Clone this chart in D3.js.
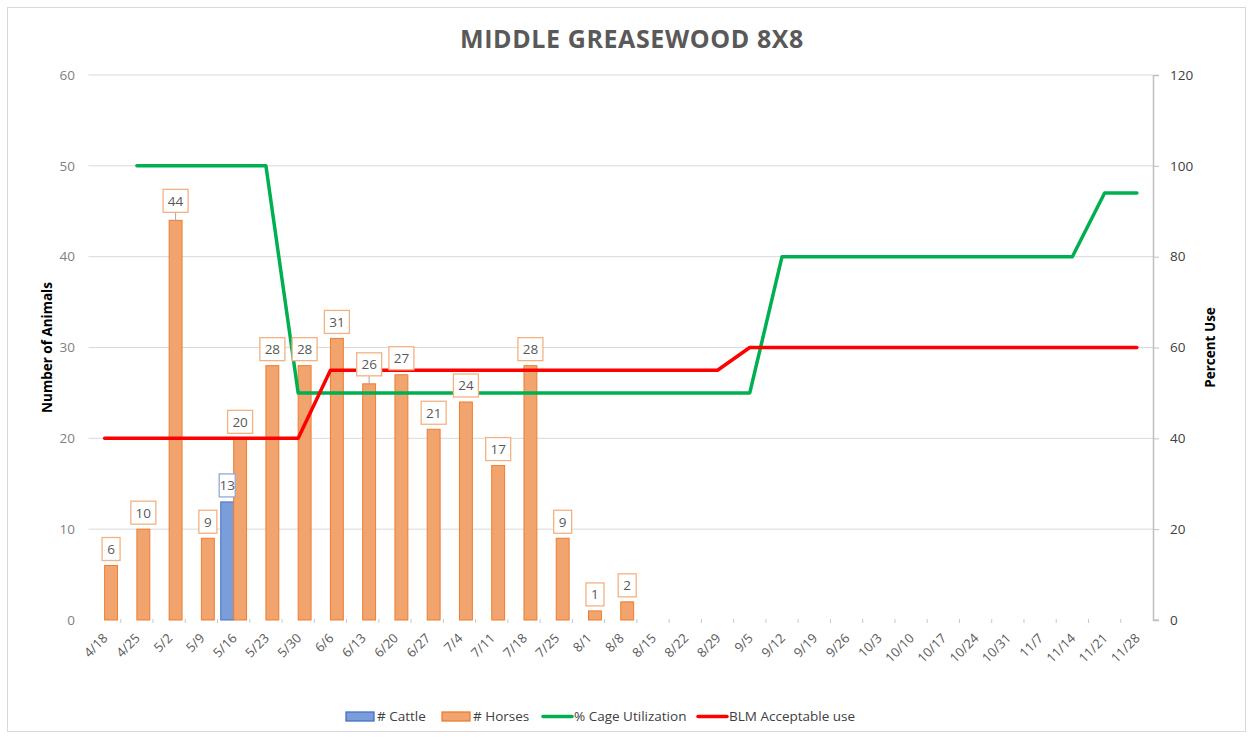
<!DOCTYPE html>
<html>
<head>
<meta charset="utf-8">
<script src="https://cdn.jsdelivr.net/npm/d3@7"></script>
<style>
  body { margin: 0; background: #fff; }
  svg text { font-family: "Open Sans", "Noto Sans", sans-serif; }
</style>
</head>
<body>
<div id="chart"></div>
<script>
const weeks = ["4/18","4/25","5/2","5/9","5/16","5/23","5/30","6/6","6/13","6/20","6/27","7/4","7/11","7/18","7/25",
  "8/1","8/8","8/15","8/22","8/29","9/5","9/12","9/19","9/26","10/3","10/10","10/17","10/24","10/31","11/7","11/14","11/21","11/28"];

// bar series (Number of Animals)
const cattle = [null,null,null,null,13,null,null,null,null,null,null,null,null,null,null,
  null,null,null,null,null,null,null,null,null,null,null,null,null,null,null,null,null,null];
const horses = [6,10,44,9,20,28,28,31,26,27,21,24,17,28,9,
  1,2,null,null,null,null,null,null,null,null,null,null,null,null,null,null,null,null];

// line series (Percent Use)
const cageUtil = [null,100,100,100,100,100,50,50,50,50,50,50,50,50,50,
  50,50,50,50,50,50,80,80,80,80,80,80,80,80,80,80,94,94];
const blmUse = [40,40,40,40,40,40,40,55,55,55,55,55,55,55,55,
  55,55,55,55,55,60,60,60,60,60,60,60,60,60,60,60,60,60];

const leftTicks = [0,10,20,30,40,50,60];
const rightTicks = [0,20,40,60,80,100,120];
const leaderWeeks = ["5/2","6/13"];  // labels pulled up with leader line

const W = 1253, H = 738;
const margin = { left: 88.5, right: W - 1153, top: 75, bottom: H - 620 };

const svg = d3.select("#chart").append("svg").attr("width", W).attr("height", H);

const defs = svg.append("defs");
defs.append("filter").attr("id", "shL").attr("x", "-50%").attr("y", "-5%").attr("width", "200%").attr("height", "110%")
  .append("feDropShadow").attr("dx", -2).attr("dy", 1).attr("stdDeviation", 1.2).attr("flood-color", "#000").attr("flood-opacity", 0.35);
defs.append("filter").attr("id", "shB").attr("x", "-2%").attr("y", "-100%").attr("width", "104%").attr("height", "400%")
  .append("feDropShadow").attr("dx", 0).attr("dy", 2).attr("stdDeviation", 1.2).attr("flood-color", "#000").attr("flood-opacity", 0.35);

// chart border
svg.append("rect").attr("x", 7.5).attr("y", 7.5).attr("width", W - 15).attr("height", H - 14)
  .attr("fill", "#fff").attr("stroke", "#d9d9d9");

const x = d3.scaleBand().domain(weeks).range([margin.left, W - margin.right]).padding(0);
const yL = d3.scaleLinear().domain([0, 60]).range([H - margin.bottom, margin.top]);
const yR = d3.scaleLinear().domain([0, 120]).range([H - margin.bottom, margin.top]);
const bw = x.bandwidth() * 0.4;

// gridlines
svg.append("g").selectAll("line").data(leftTicks.slice(1)).join("line")
  .attr("x1", margin.left).attr("x2", W - margin.right)
  .attr("y1", d => yL(d)).attr("y2", d => yL(d))
  .attr("stroke", "#d9d9d9").attr("stroke-width", 1);

// left axis line with shadow
svg.append("line").attr("x1", margin.left).attr("x2", margin.left)
  .attr("y1", margin.top).attr("y2", yL(0))
  .attr("stroke", "#d9d9d9").attr("stroke-width", 1.5).attr("filter", "url(#shL)");

// left tick labels
svg.append("g").selectAll("text").data(leftTicks).join("text")
  .attr("x", 75).attr("y", d => yL(d)).attr("dy", "0.35em")
  .attr("text-anchor", "end").attr("font-size", 13.5).attr("fill", "#7f7f7f")
  .text(d => d);

// right axis
const gR = svg.append("g").attr("transform", `translate(${W - margin.right},0)`)
  .call(d3.axisRight(yR).tickValues(rightTicks).tickSize(6).tickPadding(11));
gR.select(".domain").attr("stroke", "#bfbfbf").attr("stroke-width", 1.5);
gR.selectAll(".tick line").attr("stroke", "#bfbfbf");
gR.selectAll(".tick text").attr("font-size", 13.5).attr("fill", "#404040")
  .style("font-family", "'Open Sans', sans-serif");

// bars
const barG = svg.append("g");
barG.selectAll("rect.cattle").data(weeks.map((w, i) => ({ w, v: cattle[i] })).filter(d => d.v != null)).join("rect")
  .attr("class", "cattle")
  .attr("x", d => x(d.w) + x.bandwidth() / 2 - bw).attr("width", bw)
  .attr("y", d => yL(d.v)).attr("height", d => yL(0) - yL(d.v))
  .attr("fill", "#7b9edb").attr("stroke", "#4472c4").attr("stroke-width", 1);
barG.selectAll("rect.horse").data(weeks.map((w, i) => ({ w, v: horses[i] })).filter(d => d.v != null)).join("rect")
  .attr("class", "horse")
  .attr("x", d => x(d.w) + x.bandwidth() / 2).attr("width", bw)
  .attr("y", d => yL(d.v)).attr("height", d => yL(0) - yL(d.v))
  .attr("fill", "#f2a46e").attr("stroke", "#ed7d31").attr("stroke-width", 1);

// bottom axis
const baseY = yL(0);
svg.append("line").attr("x1", margin.left).attr("x2", W - margin.right)
  .attr("y1", baseY + 0.5).attr("y2", baseY + 0.5)
  .attr("stroke", "#808080").attr("stroke-width", 3).attr("filter", "url(#shB)");
svg.append("g").selectAll("line").data(weeks.slice(1)).join("line")
  .attr("x1", d => x(d)).attr("x2", d => x(d))
  .attr("y1", baseY - 1).attr("y2", baseY + 3)
  .attr("stroke", "#c8c8c8").attr("stroke-width", 1);
svg.append("line").attr("x1", W - margin.right).attr("x2", W - margin.right + 6)
  .attr("y1", baseY).attr("y2", baseY).attr("stroke", "#bfbfbf");

// x tick labels
svg.append("g").selectAll("text").data(weeks).join("text")
  .attr("transform", d => `translate(${x(d) + x.bandwidth() / 2 + 4},${baseY + 19}) rotate(-45)`)
  .attr("text-anchor", "end").attr("font-size", 13).attr("fill", "#595959")
  .text(d => d);

// lines
const lineGen = d3.line().defined(d => d.v != null)
  .x(d => x(d.w) + x.bandwidth() / 2).y(d => yR(d.v));
svg.append("path").datum(weeks.map((w, i) => ({ w, v: cageUtil[i] })))
  .attr("d", lineGen).attr("fill", "none").attr("stroke", "#00b050")
  .attr("stroke-width", 3.5).attr("stroke-linecap", "round").attr("stroke-linejoin", "round");
svg.append("path").datum(weeks.map((w, i) => ({ w, v: blmUse[i] })))
  .attr("d", lineGen).attr("fill", "none").attr("stroke", "#ff0000")
  .attr("stroke-width", 3.5).attr("stroke-linecap", "round").attr("stroke-linejoin", "round");

// data labels
function drawLabels(vals, cx, stroke, fixedW) {
  const g = svg.append("g");
  weeks.forEach((w, i) => {
    const v = vals[i];
    if (v == null) return;
    const lead = leaderWeeks.includes(w) && !fixedW;
    const gap = lead ? 8 : 5;
    const h = 23;
    const bx = cx(w);
    const top = yL(v) - gap - h;
    const bwid = fixedW || (String(v).length > 1 ? 25 : 18);
    if (lead) {
      g.append("line").attr("x1", bx).attr("x2", bx).attr("y1", top + h).attr("y2", yL(v))
        .attr("stroke", "#a6a6a6").attr("stroke-width", 1);
    }
    g.append("rect").attr("x", bx - bwid / 2).attr("y", top).attr("width", bwid).attr("height", h)
      .attr("fill", "#fff").attr("stroke", stroke).attr("stroke-width", 1.3);
    g.append("text").attr("x", bx).attr("y", top + h / 2).attr("dy", "0.36em")
      .attr("text-anchor", "middle").attr("font-size", 13.5).attr("fill", "#595959").text(v);
  });
}
drawLabels(horses, w => x(w) + x.bandwidth() / 2 + bw / 2, "#f4b183");
drawLabels(cattle, w => x(w) + x.bandwidth() / 2 - bw / 2, "#8eaadb", 16);

// title
svg.append("text").attr("x", 632).attr("y", 48).attr("text-anchor", "middle")
  .attr("font-size", 25).attr("font-weight", "bold").attr("fill", "#595959")
  .attr("letter-spacing", 0.6)
  .text("MIDDLE GREASEWOOD 8X8");

// axis titles
svg.append("text").attr("transform", `translate(52,${(margin.top + baseY) / 2}) rotate(-90)`)
  .attr("text-anchor", "middle").attr("font-size", 13.5).attr("font-weight", "bold").attr("fill", "#000")
  .text("Number of Animals");
svg.append("text").attr("transform", `translate(1215,${(margin.top + baseY) / 2}) rotate(-90)`)
  .attr("text-anchor", "middle").attr("font-size", 13.5).attr("font-weight", "bold").attr("fill", "#000")
  .text("Percent Use");

// legend
const legend = [
  { name: "# Cattle", type: "bar", fill: "#7b9edb", stroke: "#4472c4", x: 346 },
  { name: "# Horses", type: "bar", fill: "#f2a46e", stroke: "#ed7d31", x: 442 },
  { name: "% Cage Utilization", type: "line", stroke: "#00b050", x: 543 },
  { name: "BLM Acceptable use", type: "line", stroke: "#ff0000", x: 698 }
];
const lg = svg.append("g");
legend.forEach(d => {
  if (d.type === "bar") {
    lg.append("rect").attr("x", d.x).attr("y", 712).attr("width", 28).attr("height", 9)
      .attr("fill", d.fill).attr("stroke", d.stroke).attr("stroke-width", 1.3);
  } else {
    lg.append("line").attr("x1", d.x).attr("x2", d.x + 29).attr("y1", 716.5).attr("y2", 716.5)
      .attr("stroke", d.stroke).attr("stroke-width", 3.5).attr("stroke-linecap", "round");
  }
  lg.append("text").attr("x", d.x + 31).attr("y", 716.5).attr("dy", "0.35em")
    .attr("font-size", 13.5).attr("fill", "#404040").text(d.name);
});
</script>
</body>
</html>
